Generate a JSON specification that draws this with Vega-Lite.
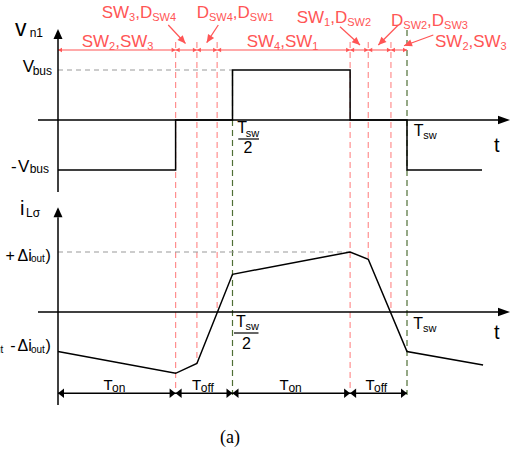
{
"$schema": "https://vega.github.io/schema/vega-lite/v6.json",
"width": 532, "height": 455, "padding": 0, "autosize": {"type": "none"},
"background": "white",
"config": {"view": {"stroke": null}},
"datasets": {
"boundaries": [
 {"t":0.337,"top":1.56,"bottom":-5.36,"kind":"switching"},
 {"t":0.398,"top":1.56,"bottom":-4.86,"kind":"switching"},
 {"t":0.456,"top":1.56,"bottom":-3.84,"kind":"switching"},
 {"t":0.837,"top":1.56,"bottom":-5.4,"kind":"switching"},
 {"t":0.889,"top":1.56,"bottom":-2.78,"kind":"switching"},
 {"t":0.954,"top":1.56,"bottom":-3.84,"kind":"switching"},
 {"t":0.5,"top":1.0,"bottom":-5.5,"kind":"period"},
 {"t":1.0,"top":1.8,"bottom":-5.5,"kind":"period"}
],
"stateArrows": [
 {"t":0,"v":1.4,"t2":1,"v2":1.4},
 {"t":0.316,"v":1.9,"t2":0.3653,"v2":1.53},
 {"t":0.4593,"v":1.9,"t2":0.4261,"v2":1.546},
 {"t":0.808,"v":1.866,"t2":0.8653,"v2":1.5},
 {"t":0.9751,"v":1.9,"t2":0.9178,"v2":1.5},
 {"t":1.0754,"v":1.7,"t2":0.9914,"v2":1.486}
],
"stateHeads": [
 {"t":0,"v":1.4,"dir":"tipLeft"},
 {"t":0.337,"v":1.4,"dir":"tipRight"},{"t":0.337,"v":1.4,"dir":"tipLeft"},
 {"t":0.398,"v":1.4,"dir":"tipRight"},{"t":0.398,"v":1.4,"dir":"tipLeft"},
 {"t":0.456,"v":1.4,"dir":"tipRight"},{"t":0.456,"v":1.4,"dir":"tipLeft"},
 {"t":0.837,"v":1.4,"dir":"tipRight"},{"t":0.837,"v":1.4,"dir":"tipLeft"},
 {"t":0.889,"v":1.4,"dir":"tipRight"},{"t":0.889,"v":1.4,"dir":"tipLeft"},
 {"t":0.954,"v":1.4,"dir":"tipRight"},{"t":0.954,"v":1.4,"dir":"tipLeft"},
 {"t":1,"v":1.4,"dir":"tipRight"},
 {"t":0.3653,"v":1.53,"dir":"toA1"},
 {"t":0.4261,"v":1.546,"dir":"toA2"},
 {"t":0.8653,"v":1.5,"dir":"toA3"},
 {"t":0.9178,"v":1.5,"dir":"toA4"},
 {"t":0.9914,"v":1.486,"dir":"toA5"}
],
"vn1": [
 {"k":0,"t":0,"v":-1},{"k":1,"t":0.337,"v":-1},{"k":2,"t":0.337,"v":0},{"k":3,"t":0.5,"v":0},
 {"k":4,"t":0.5,"v":1},{"k":5,"t":0.837,"v":1},{"k":6,"t":0.837,"v":0},{"k":7,"t":1,"v":0},
 {"k":8,"t":1,"v":-1},{"k":9,"t":1.215,"v":-1}
],
"upperAxes": [{"t":0,"t2":0,"v":-1.44,"v2":1.64},{"t":-0.0573,"t2":1.27,"v":0,"v2":0}],
"upperHeads": [{"t":0,"v":1.82,"dir":"axisUp"},{"t":1.2951,"v":0,"dir":"axisRight"}],
"upperBars": [{"t":0.5166,"t2":0.5759,"v":-0.38}],
"upperRef": [{"t":0,"t2":0.5,"v":1}],
"upperText": [
 {"t":0.0679,"v":1.47,"text":"SW","role":"state"},
 {"t":0.1464,"v":1.41,"text":"2","role":"stateSub"},
 {"t":0.1639,"v":1.47,"text":",SW","role":"state"},
 {"t":0.2559,"v":1.41,"text":"3","role":"stateSub"},
 {"t":0.1252,"v":2.034,"text":"SW","role":"state"},
 {"t":0.2037,"v":1.974,"text":"3","role":"stateSub"},
 {"t":0.2212,"v":2.034,"text":",D","role":"state"},
 {"t":0.2699,"v":1.974,"text":"SW4","role":"stateSub"},
 {"t":0.3974,"v":2.034,"text":"D","role":"state"},
 {"t":0.4327,"v":1.974,"text":"SW4","role":"stateSub"},
 {"t":0.5009,"v":2.034,"text":",D","role":"state"},
 {"t":0.5496,"v":1.974,"text":"SW1","role":"stateSub"},
 {"t":0.5407,"v":1.47,"text":"SW","role":"state"},
 {"t":0.6192,"v":1.41,"text":"4","role":"stateSub"},
 {"t":0.6367,"v":1.47,"text":",SW","role":"state"},
 {"t":0.7287,"v":1.41,"text":"1","role":"stateSub"},
 {"t":0.684,"v":1.934,"text":"SW","role":"state"},
 {"t":0.7625,"v":1.874,"text":"1","role":"stateSub"},
 {"t":0.7799,"v":1.934,"text":",D","role":"state"},
 {"t":0.8287,"v":1.874,"text":"SW2","role":"stateSub"},
 {"t":0.9542,"v":1.88,"text":"D","role":"state"},
 {"t":0.9894,"v":1.82,"text":"SW2","role":"stateSub"},
 {"t":1.0576,"v":1.88,"text":",D","role":"state"},
 {"t":1.1063,"v":1.82,"text":"SW3","role":"stateSub"},
 {"t":1.0802,"v":1.46,"text":"SW","role":"state"},
 {"t":1.1587,"v":1.4,"text":"2","role":"stateSub"},
 {"t":1.1762,"v":1.46,"text":",SW","role":"state"},
 {"t":1.2682,"v":1.4,"text":"3","role":"stateSub"},
 {"t":-0.1232,"v":1.68,"text":"v","role":"bigName"},
 {"t":-0.0811,"v":1.666,"text":"n1","role":"nameSub"},
 {"t":-0.1011,"v":0.954,"text":"V","role":"level"},
 {"t":-0.0725,"v":0.9,"text":"bus","role":"levelSub"},
 {"t":-0.1345,"v":-1.034,"text":"-","role":"level"},
 {"t":-0.1146,"v":-1.034,"text":"V","role":"level"},
 {"t":-0.0811,"v":-1.066,"text":"bus","role":"levelSub"},
 {"t":0.5137,"v":-0.266,"text":"T","role":"time"},
 {"t":0.5378,"v":-0.334,"text":"sw","role":"timeSub"},
 {"t":0.5318,"v":-0.666,"text":"2","role":"time"},
 {"t":1.0192,"v":-0.314,"text":"T","role":"time"},
 {"t":1.0467,"v":-0.374,"text":"sw","role":"timeSub"},
 {"t":1.2493,"v":-0.646,"text":"t","role":"axis"}
],
"lowerRef": [{"t":0,"t2":0.837,"i":1}],
"lowerAxes": [{"t":0,"t2":0,"i":-1.55,"i2":1.58},{"t":-0.0573,"t2":1.27,"i":0,"i2":0},{"t":0,"t2":1,"i":-1.355,"i2":-1.355}],
"lowerHeads": [
 {"t":0,"i":1.745,"dir":"axisUp"},{"t":1.2951,"i":0,"dir":"axisRight"},
 {"t":0,"i":-1.355,"dir":"dimLeft"},
 {"t":0.337,"i":-1.355,"dir":"dimRight"},{"t":0.337,"i":-1.355,"dir":"dimLeft"},
 {"t":0.5,"i":-1.355,"dir":"dimRight"},{"t":0.5,"i":-1.355,"dir":"dimLeft"},
 {"t":0.837,"i":-1.355,"dir":"dimRight"},{"t":0.837,"i":-1.355,"dir":"dimLeft"},
 {"t":1,"i":-1.355,"dir":"dimRight"}
],
"iLs": [
 {"k":0,"t":0,"i":-0.658},{"k":1,"t":0.337,"i":-1.022},{"k":2,"t":0.398,"i":-0.857},
 {"k":3,"t":0.5,"i":0.628},{"k":4,"t":0.837,"i":1.0},{"k":5,"t":0.889,"i":0.878},
 {"k":6,"t":1,"i":-0.658},{"k":7,"t":1.218,"i":-0.883}
],
"lowerBars": [{"t":0.5043,"t2":0.5745,"i":-0.35}],
"lowerText": [
 {"t":-0.1089,"i":1.617,"text":"i","role":"name"},
 {"t":-0.0917,"i":1.583,"text":"Lσ","role":"nameSub"},
 {"t":-0.1504,"i":0.855,"text":"+","role":"amp"},
 {"t":-0.116,"i":0.855,"text":"Δi","role":"amp"},
 {"t":-0.0774,"i":0.833,"text":"out","role":"ampSub"},
 {"t":-0.0358,"i":0.855,"text":")","role":"amp"},
 {"t":-0.1966,"i":-0.675,"text":"out","role":"ampSub"},
 {"t":-0.1367,"i":-0.65,"text":"-","role":"amp"},
 {"t":-0.116,"i":-0.65,"text":"Δi","role":"amp"},
 {"t":-0.0774,"i":-0.675,"text":"out","role":"ampSub"},
 {"t":-0.0358,"i":-0.65,"text":")","role":"amp"},
 {"t":0.51,"i":-0.25,"text":"T","role":"time"},
 {"t":0.5375,"i":-0.3,"text":"sw","role":"timeSub"},
 {"t":0.5272,"i":-0.6167,"text":"2","role":"time"},
 {"t":1.018,"i":-0.283,"text":"T","role":"time"},
 {"t":1.0458,"i":-0.333,"text":"sw","role":"timeSub"},
 {"t":1.2493,"i":-0.45,"text":"t","role":"axis"},
 {"t":0.1304,"i":-1.308,"text":"T","role":"dur"},
 {"t":0.1547,"i":-1.333,"text":"on","role":"durSub"},
 {"t":0.384,"i":-1.308,"text":"T","role":"dur"},
 {"t":0.4089,"i":-1.333,"text":"off","role":"durSub"},
 {"t":0.635,"i":-1.308,"text":"T","role":"dur"},
 {"t":0.6602,"i":-1.333,"text":"on","role":"durSub"},
 {"t":0.8814,"i":-1.308,"text":"T","role":"dur"},
 {"t":0.9054,"i":-1.333,"text":"off","role":"durSub"},
 {"t":0.4928,"i":-2.183,"text":"(a)","role":"caption"}
]
},
"layer": [
{
"layer": [
 {"data":{"name":"boundaries"},"mark":{"type":"rule","strokeDash":[6,4],"strokeWidth":1.2},
  "encoding":{"x":{"field":"t","type":"quantitative","scale":{"domain":[-0.16619,1.35817],"nice":false,"zero":false},"axis":null},
   "y":{"field":"top","type":"quantitative","scale":{"domain":[-6.7,2.4],"nice":false,"zero":false},"axis":null},
   "y2":{"field":"bottom"},
   "color":{"field":"kind","type":"nominal","scale":{"domain":["switching","period"],"range":["#ff8f8f","#4f6f35"]},"legend":null}}},
 {"data":{"name":"upperRef"},"mark":{"type":"rule","strokeDash":[5,4],"strokeWidth":1,"color":"#999999"},
  "encoding":{"x":{"field":"t","type":"quantitative"},"x2":{"field":"t2"},"y":{"field":"v","type":"quantitative"}}},
 {"data":{"name":"stateArrows"},"mark":{"type":"rule","strokeWidth":1.2,"color":"#ff5555"},
  "encoding":{"x":{"field":"t","type":"quantitative"},"x2":{"field":"t2"},"y":{"field":"v","type":"quantitative"},"y2":{"field":"v2"}}},
 {"data":{"name":"stateHeads"},"mark":{"type":"point","filled":true,"opacity":1,"size":100,"color":"#ff5555","strokeWidth":0},
  "encoding":{"x":{"field":"t","type":"quantitative"},"y":{"field":"v","type":"quantitative"},
   "shape":{"field":"dir","type":"nominal","legend":null,"scale":{
    "domain":["tipLeft","tipRight","axisRight","axisUp","dimLeft","dimRight","toA1","toA2","toA3","toA4","toA5"],
    "range":["M0,0L0.8,-0.45L0.8,0.45Z","M0,0L-0.8,-0.45L-0.8,0.45Z","M0,0L-2.4,-0.85L-2.4,0.85Z","M0,0L-0.9,2L0.9,2Z","M0,0L1.2,-0.95L1.2,0.95Z","M0,0L-1.2,-0.95L-1.2,0.95Z","M0,0L-0.547,-1.666L-1.61,-0.696Z","M0,0L1.477,-0.95L0.267,-1.734Z","M0,0L-0.693,-1.613L-1.666,-0.55Z","M0,0L1.64,-0.622L0.622,-1.64Z","M0,0L1.75,0.13L1.258,-1.224Z"]}}}},
 {"data":{"name":"upperAxes"},"mark":{"type":"rule","strokeWidth":1.5,"color":"#000000"},
  "encoding":{"x":{"field":"t","type":"quantitative"},"x2":{"field":"t2"},"y":{"field":"v","type":"quantitative"},"y2":{"field":"v2"}}},
 {"data":{"name":"upperBars"},"mark":{"type":"rule","strokeWidth":1.2,"color":"#000000"},
  "encoding":{"x":{"field":"t","type":"quantitative"},"x2":{"field":"t2"},"y":{"field":"v","type":"quantitative"}}},
 {"data":{"name":"vn1"},"mark":{"type":"line","strokeWidth":1.5,"color":"#000000","strokeJoin":"miter"},
  "encoding":{"x":{"field":"t","type":"quantitative"},"y":{"field":"v","type":"quantitative"},"order":{"field":"k","type":"quantitative"}}},
 {"data":{"name":"upperHeads"},"mark":{"type":"point","filled":true,"opacity":1,"size":100,"color":"#000000","strokeWidth":0},
  "encoding":{"x":{"field":"t","type":"quantitative"},"y":{"field":"v","type":"quantitative"},
   "shape":{"field":"dir","type":"nominal","legend":null,"scale":{
    "domain":["tipLeft","tipRight","axisRight","axisUp","dimLeft","dimRight","toA1","toA2","toA3","toA4","toA5"],
    "range":["M0,0L0.8,-0.45L0.8,0.45Z","M0,0L-0.8,-0.45L-0.8,0.45Z","M0,0L-2.4,-0.85L-2.4,0.85Z","M0,0L-0.9,2L0.9,2Z","M0,0L1.2,-0.95L1.2,0.95Z","M0,0L-1.2,-0.95L-1.2,0.95Z","M0,0L-0.547,-1.666L-1.61,-0.696Z","M0,0L1.477,-0.95L0.267,-1.734Z","M0,0L-0.693,-1.613L-1.666,-0.55Z","M0,0L1.64,-0.622L0.622,-1.64Z","M0,0L1.75,0.13L1.258,-1.224Z"]}}}},
 {"data":{"name":"upperText"},"transform":[{"filter":{"field":"role","oneOf":["state"]}}],
  "mark":{"type":"text","font":"Liberation Sans, Arial, sans-serif","fontSize":17,"color":"#ff5555","align":"left","baseline":"alphabetic"},
  "encoding":{"x":{"field":"t","type":"quantitative"},"y":{"field":"v","type":"quantitative"},"text":{"field":"text"}}},
 {"data":{"name":"upperText"},"transform":[{"filter":{"field":"role","oneOf":["stateSub"]}}],
  "mark":{"type":"text","font":"Liberation Sans, Arial, sans-serif","fontSize":11,"color":"#ff5555","align":"left","baseline":"alphabetic"},
  "encoding":{"x":{"field":"t","type":"quantitative"},"y":{"field":"v","type":"quantitative"},"text":{"field":"text"}}},
 {"data":{"name":"upperText"},"transform":[{"filter":{"field":"role","oneOf":["axis"]}}],
  "mark":{"type":"text","font":"Liberation Sans, Arial, sans-serif","fontSize":20,"color":"#000000","align":"left","baseline":"alphabetic"},
  "encoding":{"x":{"field":"t","type":"quantitative"},"y":{"field":"v","type":"quantitative"},"text":{"field":"text"}}},
 {"data":{"name":"upperText"},"transform":[{"filter":{"field":"role","oneOf":["bigName"]}}],
  "mark":{"type":"text","font":"Liberation Sans, Arial, sans-serif","fontSize":23,"color":"#000000","align":"left","baseline":"alphabetic"},
  "encoding":{"x":{"field":"t","type":"quantitative"},"y":{"field":"v","type":"quantitative"},"text":{"field":"text"}}},
 {"data":{"name":"upperText"},"transform":[{"filter":{"field":"role","oneOf":["level"]}}],
  "mark":{"type":"text","font":"Liberation Sans, Arial, sans-serif","fontSize":17,"color":"#000000","align":"left","baseline":"alphabetic"},
  "encoding":{"x":{"field":"t","type":"quantitative"},"y":{"field":"v","type":"quantitative"},"text":{"field":"text"}}},
 {"data":{"name":"upperText"},"transform":[{"filter":{"field":"role","oneOf":["nameSub","levelSub"]}}],
  "mark":{"type":"text","font":"Liberation Sans, Arial, sans-serif","fontSize":12,"color":"#000000","align":"left","baseline":"alphabetic"},
  "encoding":{"x":{"field":"t","type":"quantitative"},"y":{"field":"v","type":"quantitative"},"text":{"field":"text"}}},
 {"data":{"name":"upperText"},"transform":[{"filter":{"field":"role","oneOf":["time"]}}],
  "mark":{"type":"text","font":"Liberation Sans, Arial, sans-serif","fontSize":16,"color":"#000000","align":"left","baseline":"alphabetic"},
  "encoding":{"x":{"field":"t","type":"quantitative"},"y":{"field":"v","type":"quantitative"},"text":{"field":"text"}}},
 {"data":{"name":"upperText"},"transform":[{"filter":{"field":"role","oneOf":["timeSub"]}}],
  "mark":{"type":"text","font":"Liberation Sans, Arial, sans-serif","fontSize":11,"color":"#000000","align":"left","baseline":"alphabetic"},
  "encoding":{"x":{"field":"t","type":"quantitative"},"y":{"field":"v","type":"quantitative"},"text":{"field":"text"}}}
]
},
{
"layer": [
 {"data":{"name":"lowerRef"},"mark":{"type":"rule","strokeDash":[5,4],"strokeWidth":1,"color":"#999999"},
  "encoding":{"x":{"field":"t","type":"quantitative"},"x2":{"field":"t2"},
   "y":{"field":"i","type":"quantitative","scale":{"domain":[-2.38333,5.2],"nice":false,"zero":false},"axis":null}}},
 {"data":{"name":"lowerAxes"},"mark":{"type":"rule","strokeWidth":1.5,"color":"#000000"},
  "encoding":{"x":{"field":"t","type":"quantitative"},"x2":{"field":"t2"},"y":{"field":"i","type":"quantitative"},"y2":{"field":"i2"}}},
 {"data":{"name":"lowerBars"},"mark":{"type":"rule","strokeWidth":1.2,"color":"#000000"},
  "encoding":{"x":{"field":"t","type":"quantitative"},"x2":{"field":"t2"},"y":{"field":"i","type":"quantitative"}}},
 {"data":{"name":"iLs"},"mark":{"type":"line","strokeWidth":1.5,"color":"#000000","strokeJoin":"miter"},
  "encoding":{"x":{"field":"t","type":"quantitative"},"y":{"field":"i","type":"quantitative"},"order":{"field":"k","type":"quantitative"}}},
 {"data":{"name":"lowerHeads"},"mark":{"type":"point","filled":true,"opacity":1,"size":100,"color":"#000000","strokeWidth":0},
  "encoding":{"x":{"field":"t","type":"quantitative"},"y":{"field":"i","type":"quantitative"},
   "shape":{"field":"dir","type":"nominal","legend":null,"scale":{
    "domain":["tipLeft","tipRight","axisRight","axisUp","dimLeft","dimRight","toA1","toA2","toA3","toA4","toA5"],
    "range":["M0,0L0.8,-0.45L0.8,0.45Z","M0,0L-0.8,-0.45L-0.8,0.45Z","M0,0L-2.4,-0.85L-2.4,0.85Z","M0,0L-0.9,2L0.9,2Z","M0,0L1.2,-0.95L1.2,0.95Z","M0,0L-1.2,-0.95L-1.2,0.95Z","M0,0L-0.547,-1.666L-1.61,-0.696Z","M0,0L1.477,-0.95L0.267,-1.734Z","M0,0L-0.693,-1.613L-1.666,-0.55Z","M0,0L1.64,-0.622L0.622,-1.64Z","M0,0L1.75,0.13L1.258,-1.224Z"]}}}},
 {"data":{"name":"lowerText"},"transform":[{"filter":{"field":"role","oneOf":["name","axis"]}}],
  "mark":{"type":"text","font":"Liberation Sans, Arial, sans-serif","fontSize":20,"color":"#000000","align":"left","baseline":"alphabetic"},
  "encoding":{"x":{"field":"t","type":"quantitative"},"y":{"field":"i","type":"quantitative"},"text":{"field":"text"}}},
 {"data":{"name":"lowerText"},"transform":[{"filter":{"field":"role","oneOf":["nameSub","durSub"]}}],
  "mark":{"type":"text","font":"Liberation Sans, Arial, sans-serif","fontSize":12,"color":"#000000","align":"left","baseline":"alphabetic"},
  "encoding":{"x":{"field":"t","type":"quantitative"},"y":{"field":"i","type":"quantitative"},"text":{"field":"text"}}},
 {"data":{"name":"lowerText"},"transform":[{"filter":{"field":"role","oneOf":["amp","time"]}}],
  "mark":{"type":"text","font":"Liberation Sans, Arial, sans-serif","fontSize":16,"color":"#000000","align":"left","baseline":"alphabetic"},
  "encoding":{"x":{"field":"t","type":"quantitative"},"y":{"field":"i","type":"quantitative"},"text":{"field":"text"}}},
 {"data":{"name":"lowerText"},"transform":[{"filter":{"field":"role","oneOf":["ampSub"]}}],
  "mark":{"type":"text","font":"Liberation Sans, Arial, sans-serif","fontSize":10,"color":"#000000","align":"left","baseline":"alphabetic"},
  "encoding":{"x":{"field":"t","type":"quantitative"},"y":{"field":"i","type":"quantitative"},"text":{"field":"text"}}},
 {"data":{"name":"lowerText"},"transform":[{"filter":{"field":"role","oneOf":["timeSub"]}}],
  "mark":{"type":"text","font":"Liberation Sans, Arial, sans-serif","fontSize":11,"color":"#000000","align":"left","baseline":"alphabetic"},
  "encoding":{"x":{"field":"t","type":"quantitative"},"y":{"field":"i","type":"quantitative"},"text":{"field":"text"}}},
 {"data":{"name":"lowerText"},"transform":[{"filter":{"field":"role","oneOf":["dur"]}}],
  "mark":{"type":"text","font":"Liberation Sans, Arial, sans-serif","fontSize":15,"color":"#000000","align":"left","baseline":"alphabetic"},
  "encoding":{"x":{"field":"t","type":"quantitative"},"y":{"field":"i","type":"quantitative"},"text":{"field":"text"}}},
 {"data":{"name":"lowerText"},"transform":[{"filter":{"field":"role","oneOf":["caption"]}}],
  "mark":{"type":"text","font":"Liberation Serif, Times New Roman, serif","fontSize":18,"color":"#000000","align":"center","baseline":"alphabetic"},
  "encoding":{"x":{"field":"t","type":"quantitative"},"y":{"field":"i","type":"quantitative"},"text":{"field":"text"}}}
]
}
],
"resolve": {"scale": {"y": "independent"}}
}
